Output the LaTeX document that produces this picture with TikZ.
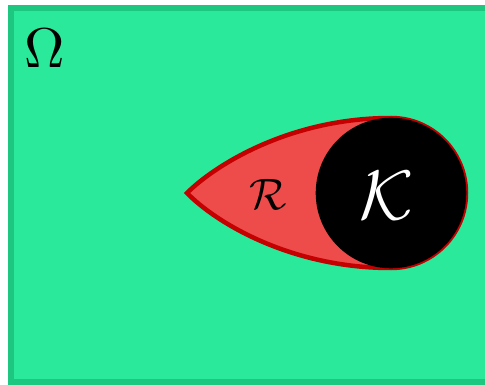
\documentclass[tikz,border=0pt]{standalone}
\usepackage{amsmath}
\definecolor{fieldgreen}{HTML}{2AE99B}
\definecolor{edgegreen}{HTML}{1DC77F}
\definecolor{regred}{HTML}{EE4B4B}
\definecolor{edgered}{HTML}{C40000}
\tikzset{
  lbl/.style={inner sep=0pt, anchor=center},
}
\begin{document}
\begin{tikzpicture}[x=1pt,y=-1pt]
\useasboundingbox (0,0) rectangle (485,385);
\fill[white] (0,0) rectangle (485,385);
\draw[fill=fieldgreen, draw=edgegreen, line width=6pt] (11,8) rectangle (490,382);
\coordinate (tip) at (187,193);
\coordinate (top) at (391,118);
\coordinate (bot) at (391,268);
\filldraw[fill=regred, draw=edgered, line width=4.5pt, line join=miter]
  (tip) .. controls (215,165) and (290,118) .. (top)
  arc[start angle=-90, end angle=90, radius=75]
  .. controls (290,268) and (215,222) .. (tip) -- cycle;
\fill[black] (391,193) circle[radius=75.3];
\node[lbl, text=white] (K) at (387,196) {\scalebox{7}{$\mathcal{K}$}};
\node[lbl] (R) at (268,194) {\scalebox{4.4}{$\mathcal{R}$}};
\node[lbl] (Om) at (45,48) {\scalebox{5.6}{$\Omega$}};
\end{tikzpicture}
\end{document}
